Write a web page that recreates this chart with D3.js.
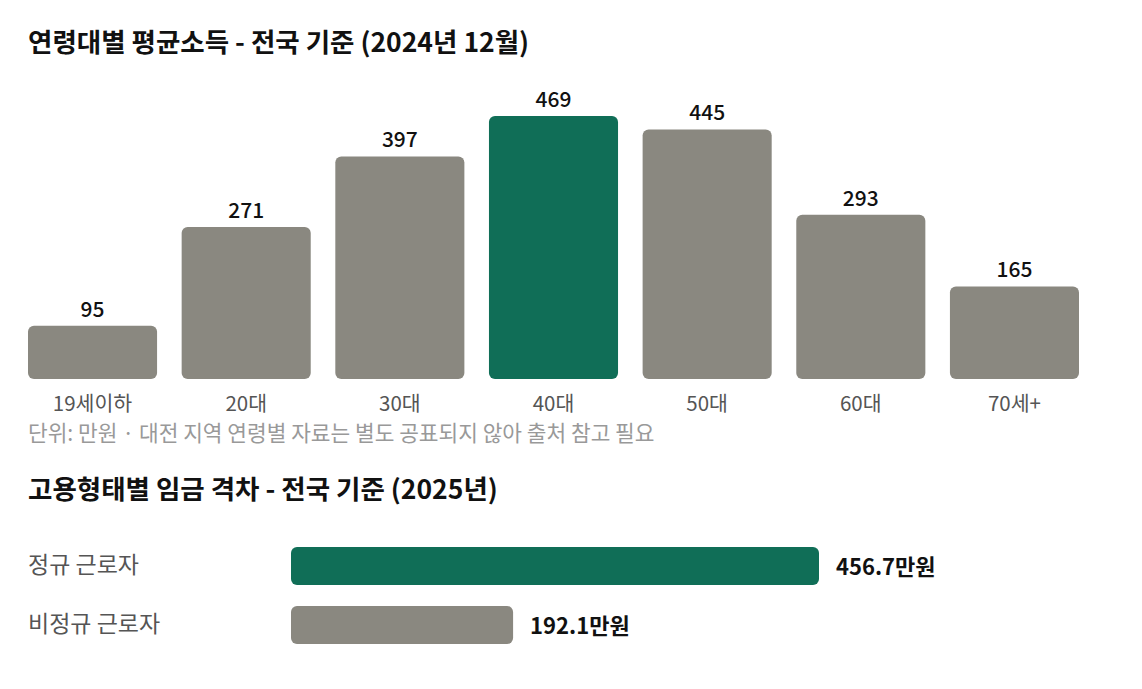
<!DOCTYPE html>
<html>
<head>
<meta charset="utf-8">
<script src="https://cdn.jsdelivr.net/npm/d3@7"></script>
<style>
  body { margin: 0; background: #fff; }
  text { font-family: "Noto Sans CJK KR", "Noto Sans", sans-serif; }
</style>
</head>
<body>
<svg id="chart" width="1142" height="689"></svg>
<script>
// 연령대별 평균소득 (만원)
var ageGroups = ["19세이하", "20대", "30대", "40대", "50대", "60대", "70세+"];
var ageIncome = [95, 271, 397, 469, 445, 293, 165];
var highlightAge = "40대";

// 고용형태별 임금
var jobTypes = ["정규 근로자", "비정규 근로자"];
var jobWage = [456.7, 192.1];

var green = "#106E57", gray = "#8A8880";

var svg = d3.select("#chart");

svg.append("text")
    .attr("x", 28).attr("y", 52)
    .attr("font-size", 26.5).attr("font-weight", 700).attr("fill", "#111")
    .text("연령대별 평균소득 - 전국 기준 (2024년 12월)");

var x = d3.scaleBand()
    .domain(ageGroups)
    .range([28, 1079])
    .paddingInner(0.16)
    .paddingOuter(0);

var y = d3.scaleLinear()
    .domain([0, d3.max(ageIncome)])
    .range([379, 116]);

var ageData = ageGroups.map(function(g, i) { return { group: g, value: ageIncome[i] }; });

var bars = svg.append("g").selectAll("g")
    .data(ageData)
    .enter().append("g");

bars.append("rect")
    .attr("x", function(d) { return x(d.group); })
    .attr("y", function(d) { return y(d.value); })
    .attr("width", x.bandwidth())
    .attr("height", function(d) { return y(0) - y(d.value); })
    .attr("rx", 6).attr("ry", 6)
    .attr("fill", function(d) { return d.group == highlightAge ? green : gray; });

bars.append("text")
    .attr("x", function(d) { return x(d.group) + x.bandwidth() / 2; })
    .attr("y", function(d) { return y(d.value) - 9; })
    .attr("text-anchor", "middle")
    .attr("font-size", 21).attr("font-weight", 500).attr("fill", "#111")
    .text(function(d) { return d.value; });

bars.append("text")
    .attr("x", function(d) { return x(d.group) + x.bandwidth() / 2; })
    .attr("y", 411)
    .attr("text-anchor", "middle")
    .attr("font-size", 20.5).attr("fill", "#555")
    .text(function(d) { return d.group; });

svg.append("text")
    .attr("x", 28).attr("y", 441)
    .attr("font-size", 21.4).attr("fill", "#999")
    .text("단위: 만원 · 대전 지역 연령별 자료는 별도 공표되지 않아 출처 참고 필요");

svg.append("text")
    .attr("x", 28).attr("y", 499)
    .attr("font-size", 26.5).attr("font-weight", 700).attr("fill", "#111")
    .text("고용형태별 임금 격차 - 전국 기준 (2025년)");

var jobData = jobTypes.map(function(t, i) { return { type: t, value: jobWage[i] }; });

var xh = d3.scaleLinear()
    .domain([0, d3.max(jobWage)])
    .range([291, 819]);

var yh = d3.scaleBand()
    .domain(jobTypes)
    .range([547, 644])
    .paddingInner(0.356);

var rows = svg.append("g").selectAll("g")
    .data(jobData)
    .enter().append("g");

rows.append("rect")
    .attr("x", xh(0))
    .attr("y", function(d) { return yh(d.type); })
    .attr("width", function(d) { return xh(d.value) - xh(0); })
    .attr("height", yh.bandwidth())
    .attr("rx", 6).attr("ry", 6)
    .attr("fill", function(d, i) { return i == 0 ? green : gray; });

rows.append("text")
    .attr("x", 28)
    .attr("y", function(d) { return yh(d.type) + yh.bandwidth() / 2 - 1; })
    .attr("dy", "0.35em")
    .attr("font-size", 23).attr("fill", "#555")
    .text(function(d) { return d.type; });

rows.append("text")
    .attr("x", function(d) { return xh(d.value) + 17; })
    .attr("y", function(d) { return yh(d.type) + yh.bandwidth() / 2 + 1; })
    .attr("dy", "0.35em")
    .attr("font-size", 22).attr("font-weight", 700).attr("fill", "#111")
    .text(function(d) { return d.value + "만원"; });
</script>
</body>
</html>
